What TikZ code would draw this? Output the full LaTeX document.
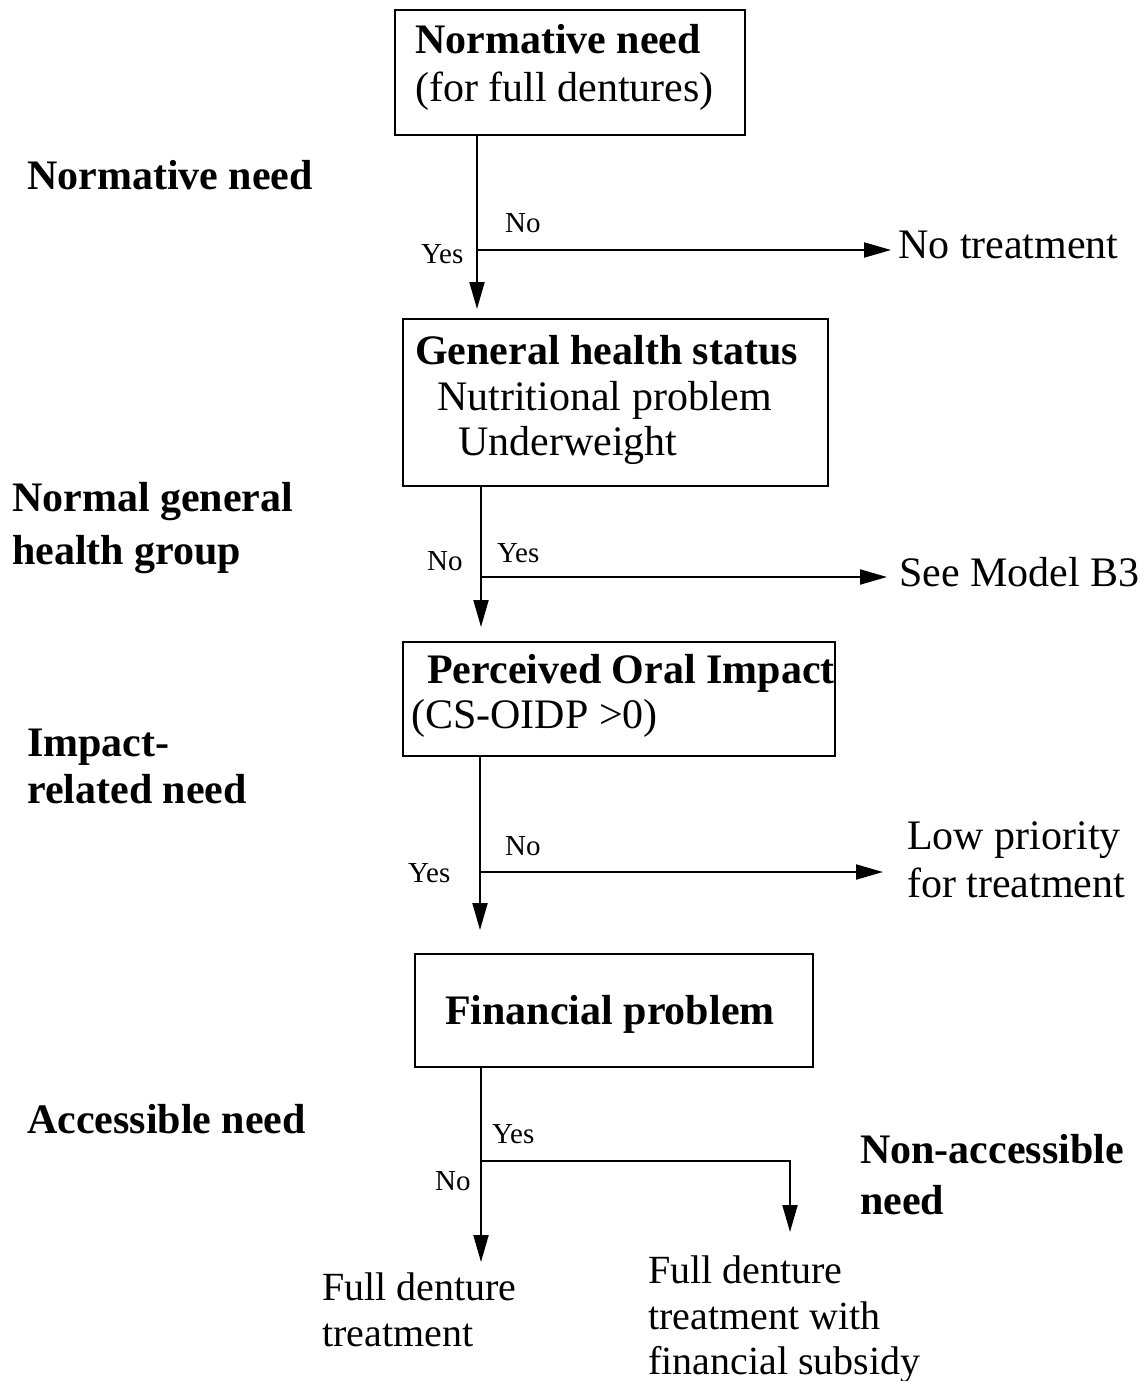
\documentclass[tikz,border=0pt]{standalone}
\usepackage{fontspec}
\setmainfont{Liberation Serif}
\usetikzlibrary{arrows.meta}
\begin{document}
\begin{tikzpicture}[x=1pt,y=-1pt,
  box/.style={draw, line width=2pt, rectangle, inner sep=0pt},
  big/.style={anchor=base west, inner sep=0pt, font=\fontsize{42}{50}\selectfont},
  bigb/.style={anchor=base west, inner sep=0pt, font=\fontsize{42}{50}\selectfont\bfseries},
  result/.style={anchor=base west, inner sep=0pt, font=\fontsize{40}{48}\selectfont},
  small/.style={anchor=base west, inner sep=0pt, font=\fontsize{29}{34}\selectfont},
  link/.style={line width=2pt},
  arr/.style={link, -{Triangle[length=27pt,width=15pt]}}]
\useasboundingbox (0,0) rectangle (1143,1381);

% decision boxes
\node[box, minimum width=350pt, minimum height=125pt] (b1) at (570,72.5) {};
\node[box, minimum width=425pt, minimum height=167pt] (b2) at (615.5,402.5) {};
\node[box, minimum width=432pt, minimum height=114pt] (b3) at (619,699) {};
\node[box, minimum width=398pt, minimum height=113pt] (b4) at (614,1010.5) {};

% box texts
\node[bigb] (b1a) at (415,53) {Normative need};
\node[big]  (b1b) at (415,101) {(for full dentures)};
\node[bigb] (b2a) at (415,364) {General health status};
\node[big]  (b2b) at (437,410) {Nutritional problem};
\node[big]  (b2c) at (458,455) {Underweight};
\node[bigb] (b3a) at (427,683) {Perceived Oral Impact};
\node[big]  (b3b) at (411,728) {(CS-OIDP >0)};
\node[bigb] (b4a) at (445,1024) {Financial problem};

% stage labels on the left
\node[bigb] (s1) at (27,189) {Normative need};
\node[bigb] (s2a) at (12,511) {Normal general};
\node[bigb] (s2b) at (12,564) {health group};
\node[bigb] (s3a) at (27,756) {Impact-};
\node[bigb] (s3b) at (27,803) {related need};
\node[bigb] (s4) at (27,1133) {Accessible need};
\node[bigb] (s5a) at (860,1163) {Non-accessible};
\node[bigb] (s5b) at (860,1214) {need};

% outcomes
\node[big] (o1) at (898,258) {No treatment};
\node[big] (o2) at (899,586) {See Model B3};
\node[big] (o3a) at (907,849) {Low priority};
\node[big] (o3b) at (907,897) {for treatment};
\node[result] (o4a) at (322,1300) {Full denture};
\node[result] (o4b) at (322,1346) {treatment};
\node[result] (o5a) at (648,1283) {Full denture};
\node[result] (o5b) at (648,1329) {treatment with};
\node[result] (o5c) at (648,1374) {financial subsidy};

% branch points and arrow ends
\coordinate (j1) at (477,250);
\coordinate (j2) at (481,577);
\coordinate (j3) at (480,872);
\coordinate (j4) at (481,1161);
\coordinate (e1) at (891,250);
\coordinate (e2) at (887,577);
\coordinate (e3) at (883,872);
\coordinate (c4) at (790,1161);
\coordinate (e4) at (790,1232);
\coordinate (d4) at (481,1262);

% connectors
\draw[link] (b1.south -| j1) -- (j1);
\draw[arr] (j1) -- (e1);
\draw[arr, shorten >=9pt] (j1) -- (b2.north -| j1);

\draw[link] (b2.south -| j2) -- (j2);
\draw[arr] (j2) -- (e2);
\draw[arr, shorten >=14pt] (j2) -- (b3.north -| j2);

\draw[link] (b3.south -| j3) -- (j3);
\draw[arr] (j3) -- (e3);
\draw[arr, shorten >=23pt] (j3) -- (b4.north -| j3);

\draw[link] (b4.south -| j4) -- (j4);
\draw[arr] (j4) -- (c4) -- (e4);
\draw[arr] (j4) -- (d4);

% branch labels
\node[small] (y1) at (421,263) {Yes};
\node[small] (n1) at (505,232) {No};
\node[small] (n2) at (427,570) {No};
\node[small] (y2) at (497,562) {Yes};
\node[small] (y3) at (408,882) {Yes};
\node[small] (n3) at (505,855) {No};
\node[small] (y4) at (492,1143) {Yes};
\node[small] (n4) at (435,1190) {No};
\end{tikzpicture}
\end{document}
